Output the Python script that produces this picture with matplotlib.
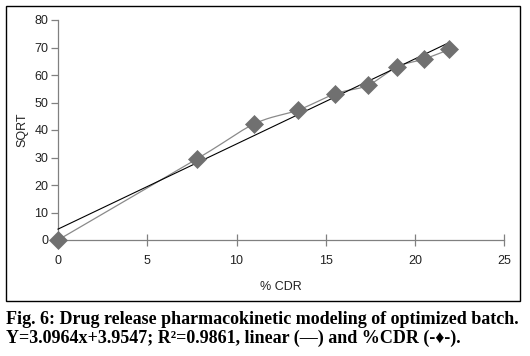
import numpy as np
import matplotlib
matplotlib.use("Agg")
import matplotlib.pyplot as plt
from matplotlib.patches import Rectangle

# Data
cdr = [0, 7.81, 10.99, 13.47, 15.53, 17.34, 19.0, 20.5, 21.93]
sqrt_vals = [0, 29.6, 42.2, 47.3, 53.2, 56.2, 63.0, 65.8, 69.3]
slope, intercept = 3.0964, 3.9547
xticks = [0, 5, 10, 15, 20, 25]
yticks = [0, 10, 20, 30, 40, 50, 60, 70, 80]
caption1 = 'Fig. 6: Drug release pharmacokinetic modeling of optimized batch.'
caption2 = 'Y=3.0964x+3.9547; R\u00b2=0.9861, linear (\u2014) and %CDR (-\u2666-).'

def smooth(xs, ys, n=20):
    xs = np.asarray(xs, float); ys = np.asarray(ys, float)
    px = np.concatenate([[xs[0]], xs, [xs[-1]]])
    py = np.concatenate([[ys[0]], ys, [ys[-1]]])
    ox, oy = [], []
    t = np.linspace(0, 1, n)
    for i in range(1, len(px) - 2):
        p0, p1, p2, p3 = (np.array([px[j], py[j]]) for j in (i-1, i, i+1, i+2))
        c1 = p1 + (p2 - p0) / 6
        c2 = p2 - (p3 - p1) / 6
        b = ((1-t)**3)[:, None]*p1 + (3*(1-t)**2*t)[:, None]*c1 + (3*(1-t)*t**2)[:, None]*c2 + (t**3)[:, None]*p2
        ox.extend(b[:, 0]); oy.extend(b[:, 1])
    return ox, oy

fig = plt.figure(figsize=(5.3, 3.56), dpi=100)
fig.patches.append(Rectangle((6/530, 1-301/356), 514/530, 295/356, transform=fig.transFigure,
                             fill=False, edgecolor='black', linewidth=1.0))
ax = fig.add_axes([58/530, 1-240/356, 446.3/530, 220/356])
sx, sy = smooth(cdr, sqrt_vals)
ax.plot(sx, sy, color='#8a8a8a', linewidth=0.9, zorder=2)
ax.plot(cdr, sqrt_vals, linestyle='none', marker='D', markersize=8.8, color='#707070',
        markeredgecolor='#707070', markeredgewidth=0.5, zorder=3)
xl = np.array([cdr[0], cdr[-1]])
ax.plot(xl, slope*xl + intercept, color='black', linewidth=0.8, zorder=2.5)

ax.set_xlim(0, 25)
ax.set_ylim(0, 80)
ax.set_xticks(xticks)
ax.set_yticks(yticks)
for s in ['top', 'right']:
    ax.spines[s].set_visible(False)
for s in ['left', 'bottom']:
    ax.spines[s].set_color('#808080')
    ax.spines[s].set_linewidth(0.9)
    ax.spines[s].set_zorder(0.5)
for ln in ax.lines:
    ln.set_clip_on(False)
ax.tick_params(axis='x', direction='inout', length=8, width=0.9, color='#808080', pad=7,
               labelsize=9, labelcolor='#222222')
ax.tick_params(axis='y', direction='out', length=5, width=0.9, color='#808080', pad=2,
               labelsize=9, labelcolor='#222222')
for lab in ax.get_xticklabels() + ax.get_yticklabels():
    lab.set_family('Liberation Sans')
ax.set_xlabel('% CDR', family='Liberation Sans', fontsize=9, color='#222222', labelpad=10)
ax.set_ylabel('SQRT', family='Liberation Sans', fontsize=9, color='#222222', labelpad=4)

fam = ['Liberation Serif', 'DejaVu Serif']
t1 = fig.text(6/530, 1-324/356, caption1, family=fam, fontweight='bold', fontsize=10.5,
              va='baseline', ha='left')
t2 = fig.text(6/530, 1-343/356, caption2, family=fam, fontweight='bold', fontsize=10.5,
              va='baseline', ha='left')
fig.canvas.draw()
w = t1.get_window_extent().width
fs = 10.5 * 514 / w
t1.set_fontsize(fs)
t2.set_fontsize(fs)

fig.savefig('out.png', dpi=100)
